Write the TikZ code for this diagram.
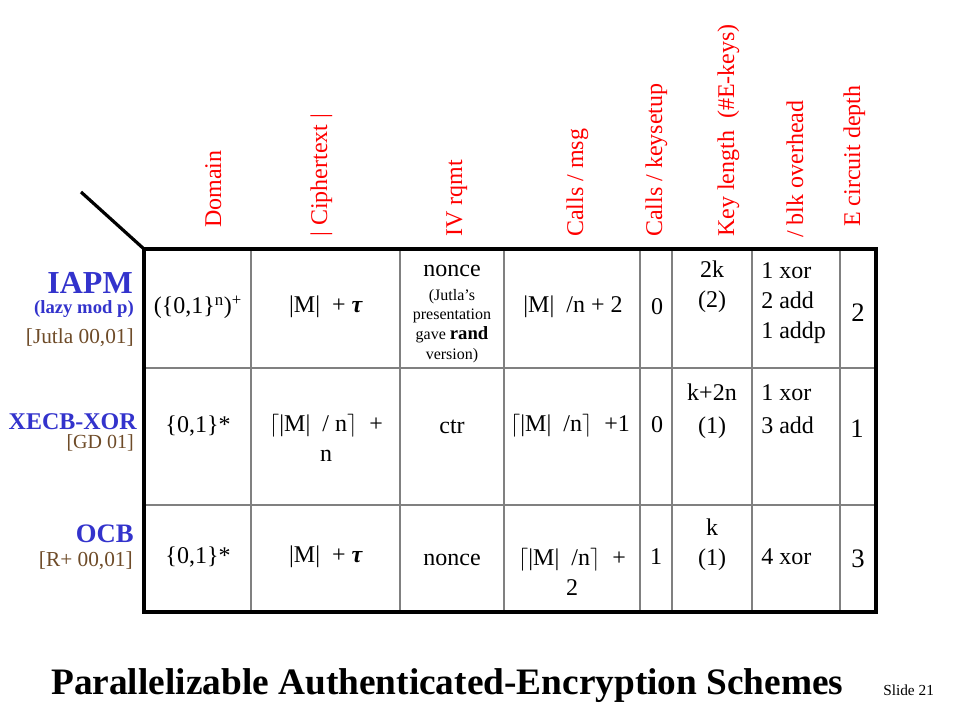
\documentclass[tikz,border=0pt]{standalone}
\usepackage{fontspec}
\setmainfont{Liberation Serif}
\definecolor{schemeblue}{RGB}{51,51,204}
\definecolor{refbrown}{RGB}{110,75,40}

\begin{document}
\begin{tikzpicture}[x=0.75pt,y=0.75pt,
	head node/.style={rotate=90, anchor=base west, inner sep=0pt, text=red, font=\fontsize{18}{22}\selectfont},
	cell node/.style={inner sep=0pt, align=center, font=\fontsize{18}{22.5}\selectfont},
	list node/.style={cell node, anchor=west, align=left},
	depth node/.style={inner sep=0pt, font=\fontsize{20}{24}\selectfont},
	scheme node/.style={anchor=east, inner sep=0pt, text=schemeblue, font=\bfseries\fontsize{#1}{#1}\selectfont},
	ref node/.style={anchor=east, inner sep=0pt, text=refbrown, font=\fontsize{#1}{#1}\selectfont},
	frame/.style={line width=2.4pt},
	rule/.style={line width=1.2pt, draw=black!50}]

\useasboundingbox (0,0) rectangle (960,-720);

% table grid
\draw[rule] (251,-249) -- (251,-612) (400,-249) -- (400,-612) (504,-249) -- (504,-612)
	(640,-249) -- (640,-612) (672,-249) -- (672,-612) (752,-249) -- (752,-612)
	(840,-249) -- (840,-612) (144,-368) -- (876,-368) (144,-505) -- (876,-505);
\draw[frame] (144,-249) rectangle (876,-612);
\draw[frame] (81,-192) -- (144,-249);

% column heads
\node[head node] (h1) at (221,-228) {Domain};
\node[head node] (h2) at (327,-237) {| Ciphertext |};
\node[head node] (h3) at (462,-237) {IV rqmt};
\node[head node] (h4) at (583,-237) {Calls / msg};
\node[head node] (h5) at (662,-237) {Calls / keysetup};
\node[head node] (h6) at (734,-237) {Key length~ (\#E-keys)};
\node[head node] (h7) at (803,-238) {/ blk overhead};
\node[head node] (h8) at (860,-227) {E circuit depth};

% schemes
\node[scheme node=24] (s1) at (133,-283) {IAPM};
\node[scheme node=14] (s1note) at (134,-309) {(lazy mod p)};
\node[ref node=16] (s1ref) at (134,-338) {[Jutla 00,01]};
\node[scheme node=18] (s2) at (137,-422) {XECB-XOR};
\node[ref node=15] (s2ref) at (134,-443) {[GD 01]};
\node[scheme node=20] (s3) at (134,-534) {OCB};
\node[ref node=16] (s3ref) at (133,-561) {[R+ 00,01]};

% IAPM row
\node[cell node] (a1) at (198,-307) {(\{0,1\}\textsuperscript{n})\textsuperscript{+}};
\node[cell node] (b1) at (326,-307) {|M|~ + \textbf{\textit{τ}}};
\node[cell node] (c1) at (452,-271) {nonce};
\node[cell node, font=\fontsize{12}{14.8}\selectfont] (c1note) at (452,-326) {(Jutla's\\presentation\\gave {\fontsize{14}{14.8}\selectfont\bfseries rand}\\version)};
\node[cell node] (d1) at (573,-307) {|M|~ /n + 2};
\node[cell node] (e1) at (657,-307) {0};
\node[cell node] (f1) at (712,-287) {2k\\(2)};
\node[list node] (g1) at (761,-303) {1 xor\\2 add\\1 addp};
\node[depth node] (k1) at (858,-313) {2};

% XECB-XOR row
\node[cell node] (a2) at (198,-426) {\{0,1\}*};
\node[cell node] (b2) at (326,-438) {$\big\lceil$|M|~ / n$\big\rceil$~~+\\n};
\node[cell node] (c2) at (452,-427) {ctr};
\node[cell node] (d2) at (570,-426) {$\big\lceil$|M|~ /n$\big\rceil$~~+1};
\node[cell node] (e2) at (657,-425) {0};
\node[cell node] (f2) at (712,-411) {k+2n\\[2pt](1)};
\node[list node] (g2) at (761,-409) {1 xor\\[2pt]3 add};
\node[depth node] (k2) at (857,-429) {1};

% OCB row
\node[cell node] (a3) at (198,-557) {\{0,1\}*};
\node[cell node] (b3) at (326,-557) {|M|~ + \textbf{\textit{τ}}};
\node[cell node] (c3) at (452,-560) {nonce};
\node[cell node] (d3) at (572,-572) {$\big\lceil$|M|~ /n$\big\rceil$~~+\\2};
\node[cell node] (e3) at (656,-557) {1};
\node[cell node] (f3) at (712,-545) {k\\(1)};
\node[list node] (g3) at (761,-557) {4 xor};
\node[depth node] (k3) at (858,-559) {3};

\node[anchor=base west, inner sep=0pt, font=\bfseries\fontsize{28}{32}\selectfont] (title) at (51,-694) {Parallelizable Authenticated-Encryption Schemes};
\node[anchor=base west, inner sep=0pt, font=\fontsize{11.5}{14}\selectfont] (slide) at (883,-695) {Slide 21};
\end{tikzpicture}
\end{document}
